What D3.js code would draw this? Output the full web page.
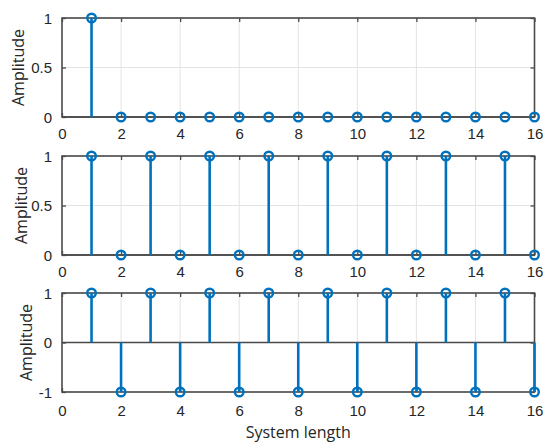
<!DOCTYPE html>
<html>
<head>
<meta charset="utf-8">
<script src="https://cdn.jsdelivr.net/npm/d3@7"></script>
<style>
  body { margin: 0; background: #fff; }
  svg { display: block; font-family: "Open Sans", sans-serif; }
  .axis path { display: none; }
  .axis line { stroke: #4a4a4a; stroke-width: 1.3px; }
  .axis text { fill: #262626; font-size: 15px; }
  .grid line { stroke: #e3e3e3; stroke-width: 1px; }
  .frame { fill: none; stroke: #4a4a4a; stroke-width: 1.6px; }
  .baseline { stroke: #4a4a4a; stroke-width: 1.6px; }
  .stem { stroke: #0072BD; stroke-width: 2.6px; }
  .marker { fill: none; stroke: #0072BD; stroke-width: 2.4px; }
  .ylabel, .xlabel { fill: #262626; font-size: 16px; }
</style>
</head>
<body>
<div id="chart"></div>
<script>
// sample index along the system
var samples = [1, 2, 3, 4, 5, 6, 7, 8, 9, 10, 11, 12, 13, 14, 15, 16];

// the three responses, one per panel
var impulse     = [1, 0, 0, 0, 0, 0, 0, 0, 0, 0, 0, 0, 0, 0, 0, 0];
var alternating = [1, 0, 1, 0, 1, 0, 1, 0, 1, 0, 1, 0, 1, 0, 1, 0];
var bipolar     = [1, -1, 1, -1, 1, -1, 1, -1, 1, -1, 1, -1, 1, -1, 1, -1];

// tick labels
var xTicks = [0, 2, 4, 6, 8, 10, 12, 14, 16];
var yTicksUnit = [0, 0.5, 1];
var yTicksSigned = [-1, 0, 1];

var width = 546, height = 443;
var left = 62, right = 534.5;

// panel layout (top/bottom of each plot box)
var panels = [
  {values: impulse,     domain: [0, 1],  ticks: yTicksUnit,   top: 18,  bottom: 117, labelGap: 22, ylabelX: 18},
  {values: alternating, domain: [0, 1],  ticks: yTicksUnit,   top: 156, bottom: 255, labelGap: 22, ylabelX: 21},
  {values: bipolar,     domain: [-1, 1], ticks: yTicksSigned, top: 293, bottom: 392, labelGap: 23.5, ylabelX: 26}
];

var svg = d3.select('#chart').append('svg')
    .attr('width', width)
    .attr('height', height);

var x = d3.scaleLinear()
    .domain([0, 16])
    .range([left, right]);

panels.forEach(function(p) {
  var y = d3.scaleLinear()
      .domain(p.domain)
      .range([p.bottom, p.top]);

  var g = svg.append('g');

  // light grid
  var grid = g.append('g').attr('class', 'grid');
  grid.selectAll('.vgrid').data(xTicks.slice(1, -1)).enter()
    .append('line')
      .attr('x1', function(d) { return x(d); })
      .attr('x2', function(d) { return x(d); })
      .attr('y1', p.top)
      .attr('y2', p.bottom);
  grid.selectAll('.hgrid').data(p.ticks).enter()
    .append('line')
      .attr('x1', left)
      .attr('x2', right)
      .attr('y1', function(d) { return y(d); })
      .attr('y2', function(d) { return y(d); });

  // inward ticks on all four sides
  g.append('g').attr('class', 'axis')
    .attr('transform', 'translate(0,' + p.bottom + ')')
    .call(d3.axisBottom(x).tickValues(xTicks).tickSizeInner(-4).tickSizeOuter(0).tickPadding(0)
      .tickFormat(function(d) { return String(d); }))
    .selectAll('text')
      .attr('y', p.labelGap)
      .attr('dy', 0);
  g.append('g').attr('class', 'axis')
    .attr('transform', 'translate(0,' + p.top + ')')
    .call(d3.axisTop(x).tickValues(xTicks).tickSizeInner(-4).tickSizeOuter(0).tickFormat(''));
  g.append('g').attr('class', 'axis')
    .attr('transform', 'translate(' + left + ',0)')
    .call(d3.axisLeft(y).tickValues(p.ticks).tickSizeInner(-4).tickSizeOuter(0).tickPadding(0)
      .tickFormat(function(d) { return String(d); }))
    .selectAll('text')
      .attr('x', -10)
      .attr('dy', '0.35em');
  g.append('g').attr('class', 'axis')
    .attr('transform', 'translate(' + right + ',0)')
    .call(d3.axisRight(y).tickValues(p.ticks).tickSizeInner(-4).tickSizeOuter(0).tickFormat(''));

  // box
  g.append('rect').attr('class', 'frame')
    .attr('x', left)
    .attr('y', p.top)
    .attr('width', right - left)
    .attr('height', p.bottom - p.top);

  // stem baseline at zero
  g.append('line').attr('class', 'baseline')
    .attr('x1', left).attr('x2', right)
    .attr('y1', y(0)).attr('y2', y(0));

  // stems
  var rows = samples.map(function(s, i) { return {n: s, v: p.values[i]}; });
  g.selectAll('.stem').data(rows).enter()
    .append('line')
      .attr('class', 'stem')
      .attr('x1', function(d) { return x(d.n); })
      .attr('x2', function(d) { return x(d.n); })
      .attr('y1', y(0))
      .attr('y2', function(d) { return y(d.v); });
  g.selectAll('.marker').data(rows).enter()
    .append('circle')
      .attr('class', 'marker')
      .attr('cx', function(d) { return x(d.n); })
      .attr('cy', function(d) { return y(d.v); })
      .attr('r', 4.3);

  // y label
  g.append('text').attr('class', 'ylabel')
    .attr('text-anchor', 'middle')
    .attr('transform', 'translate(' + [p.ylabelX, (p.top + p.bottom) / 2] + ') rotate(-90)')
    .attr('dy', '0.35em')
    .text('Amplitude');
});

svg.append('text').attr('class', 'xlabel')
  .attr('text-anchor', 'middle')
  .attr('x', (left + right) / 2)
  .attr('y', 438)
  .text('System length');
</script>
</body>
</html>
